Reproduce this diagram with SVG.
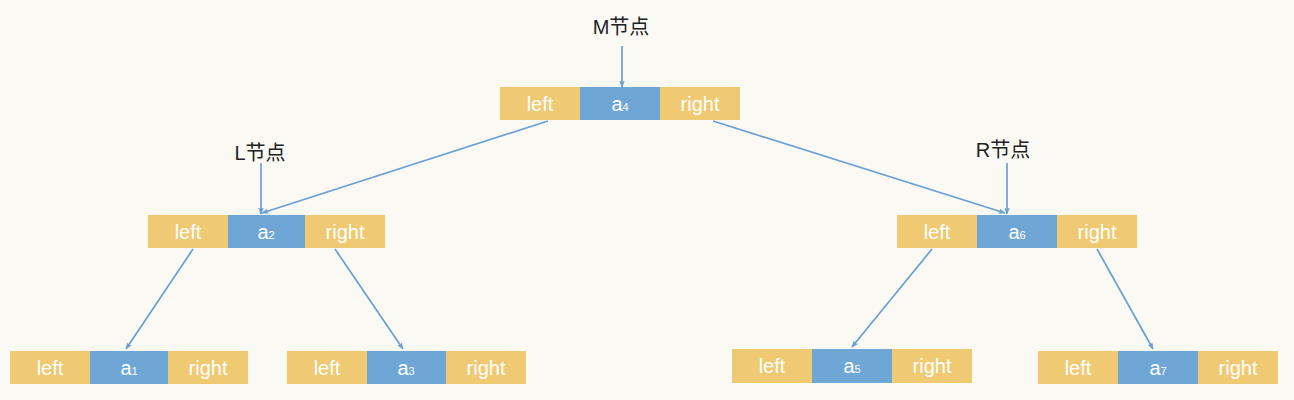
<svg xmlns="http://www.w3.org/2000/svg" width="1294" height="400" viewBox="0 0 1294 400">
<style>
.y{fill:#efca72}
.b{fill:#6ea6d6}
.t{fill:#fff;font-family:"Liberation Sans",Arial,sans-serif;font-size:20px;text-anchor:middle}
.s{font-size:11px}
.lb{fill:#222;font-family:"Liberation Sans","Noto Sans CJK SC",sans-serif;font-size:20px;text-anchor:middle}
.c{stroke:#6a9fd2;stroke-width:1.7;fill:none;marker-end:url(#ah)}
</style>
<defs>
<marker id="ah" viewBox="0 0 10 10" refX="9" refY="5" markerWidth="7" markerHeight="7" orient="auto" markerUnits="userSpaceOnUse">
<path d="M0,1 L10,5 L0,9 L2,5 Z" fill="#6a9fd2"/>
</marker>
</defs>
<rect width="1294" height="400" fill="#fbf9f3"/>
<g id="connectors">
<line class="c" x1="622" y1="46" x2="622" y2="87"/>
<line class="c" x1="261" y1="163" x2="261" y2="214"/>
<line class="c" x1="1007" y1="163" x2="1007" y2="214"/>
<line class="c" x1="548" y1="121" x2="262" y2="213"/>
<line class="c" x1="713" y1="121" x2="1005" y2="213"/>
<line class="c" x1="193" y1="249" x2="126" y2="349"/>
<line class="c" x1="335" y1="249" x2="403" y2="349"/>
<line class="c" x1="932" y1="249" x2="852" y2="347"/>
<line class="c" x1="1097" y1="249" x2="1153" y2="349"/>
</g>
<g id="labelM"><text class="lb" x="621" y="34">M节点</text></g>
<g id="labelL"><text class="lb" x="260" y="160">L节点</text></g>
<g id="labelR"><text class="lb" x="1003" y="157">R节点</text></g>
<g id="nodeM">
<rect class="y" x="500" y="87" width="80" height="33"/>
<rect class="b" x="580" y="87" width="80" height="33"/>
<rect class="y" x="660" y="87" width="80" height="33"/>
<text class="t" x="540" y="111">left</text>
<text class="t" x="620" y="111">a<tspan class="s">4</tspan></text>
<text class="t" x="700" y="111">right</text>
</g>
<g id="nodeL">
<rect class="y" x="148" y="215" width="80" height="33"/>
<rect class="b" x="228" y="215" width="77" height="33"/>
<rect class="y" x="305" y="215" width="80" height="33"/>
<text class="t" x="188" y="239">left</text>
<text class="t" x="266" y="239">a<tspan class="s">2</tspan></text>
<text class="t" x="345" y="239">right</text>
</g>
<g id="nodeR">
<rect class="y" x="897" y="215" width="80" height="33"/>
<rect class="b" x="977" y="215" width="80" height="33"/>
<rect class="y" x="1057" y="215" width="80" height="33"/>
<text class="t" x="937" y="239">left</text>
<text class="t" x="1017" y="239">a<tspan class="s">6</tspan></text>
<text class="t" x="1097" y="239">right</text>
</g>
<g id="node1">
<rect class="y" x="10" y="351" width="80" height="33"/>
<rect class="b" x="90" y="351" width="78" height="33"/>
<rect class="y" x="168" y="351" width="80" height="33"/>
<text class="t" x="50" y="375">left</text>
<text class="t" x="129" y="375">a<tspan class="s">1</tspan></text>
<text class="t" x="208" y="375">right</text>
</g>
<g id="node3">
<rect class="y" x="287" y="351" width="80" height="33"/>
<rect class="b" x="367" y="351" width="79" height="33"/>
<rect class="y" x="446" y="351" width="80" height="33"/>
<text class="t" x="327" y="375">left</text>
<text class="t" x="406" y="375">a<tspan class="s">3</tspan></text>
<text class="t" x="486" y="375">right</text>
</g>
<g id="node5">
<rect class="y" x="732" y="349" width="80" height="34"/>
<rect class="b" x="812" y="349" width="80" height="34"/>
<rect class="y" x="892" y="349" width="80" height="34"/>
<text class="t" x="772" y="373">left</text>
<text class="t" x="852" y="373">a<tspan class="s">5</tspan></text>
<text class="t" x="932" y="373">right</text>
</g>
<g id="node7">
<rect class="y" x="1038" y="351" width="80" height="33"/>
<rect class="b" x="1118" y="351" width="80" height="33"/>
<rect class="y" x="1198" y="351" width="80" height="33"/>
<text class="t" x="1078" y="375">left</text>
<text class="t" x="1158" y="375">a<tspan class="s">7</tspan></text>
<text class="t" x="1238" y="375">right</text>
</g>
</svg>
